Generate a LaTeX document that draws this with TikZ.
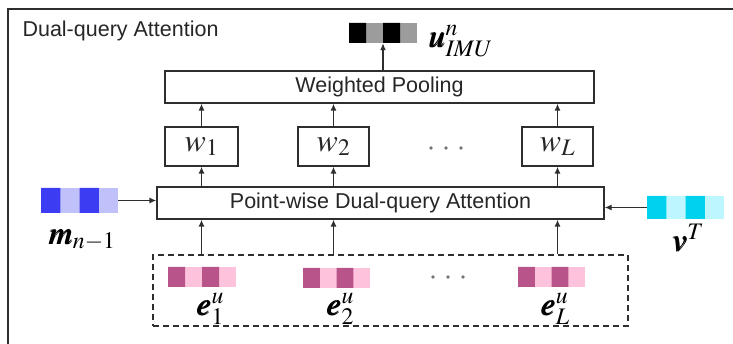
\documentclass[tikz,border=0pt]{standalone}
\usepackage{mathptmx}
\usepackage{bm}
\usepackage[no-math]{fontspec}
\setmainfont{Liberation Sans}
\usetikzlibrary{calc,arrows.meta}

\definecolor{linegray}{HTML}{2E2E2E}
\definecolor{imudark}{HTML}{000000}
\definecolor{imulight}{HTML}{9C9C9C}
\definecolor{memdark}{HTML}{3C3CF2}
\definecolor{memlight}{HTML}{C0C0FA}
\definecolor{vdark}{HTML}{00D2EE}
\definecolor{vlight}{HTML}{BDF6FF}
\definecolor{edark}{HTML}{B8548A}
\definecolor{elight}{HTML}{FFC2DD}

\tikzset{
  x=1pt, y=-1pt,
  txt/.style={font=\fontsize{21.5}{24}\selectfont, text=black!85},
  box/.style={draw=linegray, line width=1.3pt, fill=white, inner sep=0pt, txt},
  arr/.style={draw=linegray, line width=1.3pt, -{Latex[length=7pt,width=6pt]}},
  mlabel/.style={font=\fontsize{32}{36}\selectfont, inner sep=0pt},
  wtext/.style={font=\fontsize{32}{34}\selectfont},
  cells/.style n args={4}{inner sep=0pt, minimum width=#3, minimum height=#4,
    path picture={
      \fill[#2] (path picture bounding box.south west) rectangle (path picture bounding box.north east);
      \fill[#1] let \p1=(path picture bounding box.south west),
                    \p2=(path picture bounding box.north east) in
        (\x1,\y1) rectangle ({\x1+(\x2-\x1)/4},\y2)
        ({\x1+(\x2-\x1)/2},\y1) rectangle ({\x1+3*(\x2-\x1)/4},\y2);
    }},
}

\begin{document}
\begin{tikzpicture}
\useasboundingbox (0,0) rectangle (733,344);

% outer frame, open towards the right and the bottom
\draw[linegray, line width=1.4pt] (8,344) -- (8,9) -- (733,9);
\node[txt, anchor=west] (title) at (19,31) {Dual-query Attention};

% pooled IMU feature
\node[cells={imudark}{imulight}{68pt}{20pt}] (u) at (383,33) {};
\node[mlabel, anchor=west] (ulab) at (428,41) {$\bm{u}^{n}_{\mathit{IMU}}$};

% weighted pooling
\node[box, minimum width=429pt, minimum height=32pt] (wp) at (379.5,87) {Weighted Pooling};

% attention weights
\node[box, minimum width=73pt, minimum height=39pt] (w1) at (201.5,146.5) {\fontsize{32}{34}\selectfont$w_1$};
\node[box, minimum width=71pt, minimum height=39pt] (w2) at (333.5,146.5) {\fontsize{32}{34}\selectfont$w_2$};
\node[box, minimum width=71pt, minimum height=39pt] (wL) at (557.5,146.5) {\fontsize{32}{34}\selectfont$w_L$};
\foreach \dx in {0,15,30} \fill[black!55] (431+\dx,148) circle (1.8pt);

% point-wise attention
\node[box, minimum width=447pt, minimum height=32pt] (pw) at (380.5,203) {Point-wise Dual-query Attention};

% memory query
\node[cells={memdark}{memlight}{77pt}{25pt}] (m) at (79.5,200.5) {};
\node[mlabel] (mlab) at (82,240) {$\bm{m}_{n-1}$};

% visual query
\node[cells={vdark}{vlight}{77pt}{23pt}] (v) at (685.5,207.5) {};
\node[mlabel] (vlab) at (688,238) {$\bm{v}^{T}$};

% point-wise IMU embeddings
\node[draw=linegray, line width=1.3pt, dash pattern=on 6pt off 4pt, minimum width=475pt, minimum height=71pt, inner sep=0pt] (emb) at (390.5,290.5) {};
\node[cells={edark}{elight}{68pt}{20pt}] (e1) at (202,277) {};
\node[cells={edark}{elight}{67pt}{20pt}] (e2) at (336.5,278) {};
\node[cells={edark}{elight}{67pt}{20pt}] (eL) at (551.5,277) {};
\node[mlabel] (e1lab) at (210,309) {$\bm{e}^{u}_{1}$};
\node[mlabel] (e2lab) at (340,309) {$\bm{e}^{u}_{2}$};
\node[mlabel] (eLlab) at (555,309) {$\bm{e}^{u}_{L}$};
\foreach \dx in {0,15,30} \fill[black!55] (433+\dx,277) circle (1.8pt);

% connectors
\draw[arr] (wp.north -| u.south) -- (u.south);
\foreach \w in {w1,w2,wL} {
  \draw[arr] (\w.north) -- (\w.north |- wp.south);
  \draw[arr] (pw.north -| \w.south) -- (\w.south);
  \draw[arr] (emb.north -| \w.south) -- (pw.south -| \w.south);
}
\draw[arr] (m.east) -- (pw.west |- m.east);
\draw[arr] (v.west) -- (pw.east |- v.west);
\end{tikzpicture}
\end{document}
